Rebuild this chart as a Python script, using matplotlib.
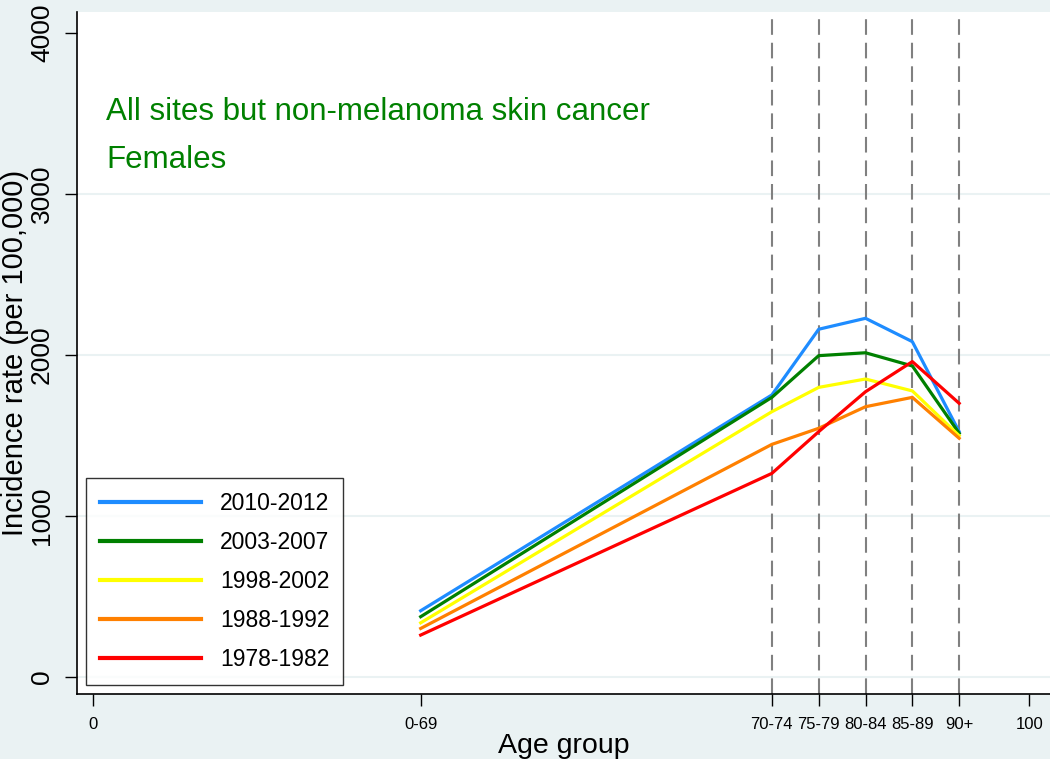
import numpy as np
import matplotlib
matplotlib.use("Agg")
import matplotlib.pyplot as plt

plt.rcParams['font.family'] = ['Liberation Sans', 'DejaVu Sans']

# x positions = midpoints of the age bands
age_pos = [35, 72.5, 77.5, 82.5, 87.5, 92.5]
age_labels = ['0-69', '70-74', '75-79', '80-84', '85-89', '90+']

periods = ['2010-2012', '2003-2007', '1998-2002', '1988-1992', '1978-1982']
rate_2010 = [410, 1750, 2158, 2226, 2081, 1522]
rate_2003 = [373, 1735, 1994, 2012, 1930, 1512]
rate_1998 = [335, 1646, 1797, 1849, 1775, 1497]
rate_1988 = [300, 1443, 1543, 1677, 1735, 1481]
rate_1978 = [259, 1263, 1522, 1770, 1957, 1698]
rates = [rate_2010, rate_2003, rate_1998, rate_1988, rate_1978]
colors = ['#1E8CFF', '#008000', '#FFFF00', '#FF8000', '#FF0000']

bg = '#EAF2F3'

fig = plt.figure(figsize=(10.5, 7.59), dpi=100, facecolor=bg)
ax = fig.add_axes([77/1050, 65/759, 973/1050, 682/759])
ax.set_facecolor('white')

ax.set_xlim(-1.7, 102.2)
ax.set_ylim(-107, 4128)

# light horizontal grid
for g in [0, 1000, 2000, 3000]:
    ax.axhline(g, color=bg, lw=1.5, zorder=0)

# dashed reference lines (only for the 5-year groups)
for p in age_pos[1:]:
    ax.axvline(p, color='#808080', lw=1.5, dashes=(7.5, 3.8), zorder=1)

for lab, vals, c in zip(periods, rates, colors):
    ax.plot(age_pos, vals, color=c, lw=2.3, label=lab, zorder=2)

for s in ['top', 'right']:
    ax.spines[s].set_visible(False)
ax.spines['left'].set_linewidth(1.2)
ax.spines['bottom'].set_linewidth(1.2)

ax.set_xticks([0] + age_pos + [100])
ax.set_xticklabels(['0'] + age_labels + ['100'], fontsize=12)
ax.set_yticks([0, 1000, 2000, 3000, 4000])
ax.set_yticklabels(['0', '1000', '2000', '3000', '4000'], fontsize=19,
                   rotation=90, va='center')
ax.tick_params(axis='both', length=8.5, width=1, pad=8)

ax.set_xlabel('Age group', fontsize=20.5, labelpad=1)
ax.set_ylabel('Incidence rate (per 100,000)', fontsize=21)
ax.yaxis.set_label_coords(-0.0498, 0.5)

ax.text(1.4, 3507, 'All sites but non-melanoma skin cancer', color='#008000',
        fontsize=22.5, va='center', ha='left')
ax.text(1.4, 3209, 'Females', color='#008000', fontsize=22.5, va='center', ha='left')

leg = ax.legend(loc='lower left', bbox_to_anchor=(0.00925, 0.0132), borderaxespad=0,
                fontsize=16.5, frameon=True, fancybox=False, edgecolor='black',
                handlelength=4.4, handletextpad=0.85, labelspacing=0.7,
                borderpad=0.6)
leg.get_frame().set_linewidth(1.0)
for l in leg.get_lines():
    l.set_linewidth(3)

fig.savefig('out.png', dpi=100, facecolor=bg)
